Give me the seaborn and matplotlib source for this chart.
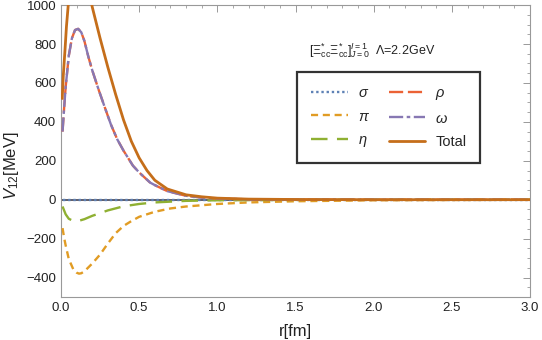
import matplotlib
matplotlib.use("Agg")
import matplotlib.pyplot as plt
import seaborn as sns
from matplotlib.ticker import MultipleLocator, FormatStrFormatter

# values (r in fm, V in MeV)
r_sigma = [0.01, 0.5, 1.0, 1.5, 2.0, 2.5, 3.0]
v_sigma = [0.0, 0.0, 0.0, 0.0, 0.0, 0.0, 0.0]

r_pi = [0.01, 0.02, 0.03, 0.05, 0.08, 0.1, 0.115, 0.13, 0.15, 0.2, 0.25, 0.3, 0.35, 0.4,
        0.45, 0.5, 0.6, 0.7, 0.8, 1.0, 1.2, 1.5, 2.0, 2.5, 3.0]
v_pi = [-146, -195, -235, -305, -360, -375, -380, -378, -368, -328, -282, -225, -172, -135,
        -110, -88, -62, -45, -35, -22, -14, -8, -3, -1.5, -0.5]

r_eta = [0.01, 0.03, 0.05, 0.08, 0.1, 0.15, 0.2, 0.3, 0.4, 0.5, 0.6, 0.8, 1.0, 1.5, 2.0, 3.0]
v_eta = [-35, -75, -98, -110, -112, -100, -83, -55, -34, -22, -14, -6, -3, -1, 0, 0]

r_rho = [0.01, 0.02, 0.03, 0.05, 0.07, 0.09, 0.11, 0.13, 0.15, 0.175, 0.2, 0.24, 0.28, 0.32,
         0.36, 0.4, 0.46, 0.5, 0.57, 0.6, 0.68, 0.8, 0.9, 1.0, 1.2, 1.5, 2.0, 3.0]
v_rho = [350, 470, 580, 740, 830, 872, 878, 860, 815, 735, 665, 567, 475, 385,
         310, 252, 175, 140, 88, 75, 44, 20, 11, 6, 2, 0.5, 0, 0]
r_omega = r_rho
v_omega = v_rho

r_total = [0.008, 0.015, 0.026, 0.035, 0.047, 0.06, 0.08, 0.1, 0.12, 0.15, 0.18, 0.2,
           0.25, 0.3, 0.35, 0.4, 0.45, 0.5, 0.55, 0.6, 0.68, 0.8, 0.9, 1.0, 1.2,
           1.5, 2.0, 3.0]
v_total = [520, 640, 773, 890, 1005, 1130, 1220, 1260, 1250, 1180, 1070, 990,
           830, 680, 540, 410, 300, 215, 150, 100, 55, 25, 15, 8, 3,
           1, 0, 0]

sns.set_style("white")
plt.rcParams['font.family'] = ['Liberation Sans', 'DejaVu Sans']
plt.rcParams['mathtext.fontset'] = 'custom'
plt.rcParams['mathtext.it'] = 'Liberation Sans:italic'
plt.rcParams['mathtext.rm'] = 'Liberation Sans'

fig = plt.figure(figsize=(5.42, 3.4), dpi=100)
ax = fig.add_axes([0.1125, 0.1265, 0.8655, 0.8585])

# zero axis line, as drawn under the curves
ax.axhline(0, color="#333344", lw=1.1, zorder=1)

sns.lineplot(x=r_sigma, y=v_sigma, ax=ax, color="#5E81B5", lw=1.7,
             linestyle=(0, (1, 1.2)), label=r"$\sigma$", zorder=3)
sns.lineplot(x=r_pi, y=v_pi, ax=ax, color="#E19C24", lw=1.7,
             linestyle=(0, (3, 2)), label=r"$\pi$", zorder=3)
sns.lineplot(x=r_eta, y=v_eta, ax=ax, color="#8FB032", lw=1.7,
             linestyle=(0, (7, 4)), label=r"$\eta$", zorder=3)
sns.lineplot(x=r_rho, y=v_rho, ax=ax, color="#EB6235", lw=1.7,
             linestyle=(0, (6, 2)), label=r"$\rho$", zorder=3)
sns.lineplot(x=r_omega, y=v_omega, ax=ax, color="#8778B3", lw=1.7,
             linestyle=(0, (6, 1.5, 1.5, 1.5)), label=r"$\omega$", zorder=4)
sns.lineplot(x=r_total, y=v_total, ax=ax, color="#C56E1A", lw=2.0,
             linestyle="-", label="Total", zorder=5)

ax.set_xlim(0, 3.0)
ax.set_ylim(-500, 1000)

ax.xaxis.set_major_locator(MultipleLocator(0.5))
ax.xaxis.set_minor_locator(MultipleLocator(0.1))
ax.yaxis.set_major_locator(MultipleLocator(200))
ax.yaxis.set_minor_locator(MultipleLocator(50))
ax.xaxis.set_major_formatter(FormatStrFormatter("%.1f"))
ax.tick_params(which="both", direction="in", top=True, right=True,
               color="#999999", labelsize=9.5, labelcolor="#222222")
ax.tick_params(which="major", length=5, width=0.7)
ax.tick_params(which="minor", length=2.5, width=0.6)
for s in ax.spines.values():
    s.set_color("#999999")
    s.set_linewidth(0.8)

ax.set_xlabel("r[fm]", fontsize=12, color="#222222", labelpad=7)
ax.set_ylabel(r"$V_{\rm 12}$[MeV]", fontsize=12, color="#222222")
ax.yaxis.set_label_coords(-0.086, 0.45)

ax.text(0.528, 0.845, r"$[\Xi^{*}_{\rm cc}\Xi^{*}_{\rm cc}]^{I=1}_{J=0}$  $\Lambda$=2.2GeV",
        transform=ax.transAxes, fontsize=9, color="#222222", va="center")

handles, labels = ax.get_legend_handles_labels()
leg = ax.legend(handles, labels, ncol=2, loc="upper left", bbox_to_anchor=(0.488, 0.795),
                frameon=True, fancybox=False, edgecolor="black", fontsize=10.5,
                handlelength=2.5, handletextpad=0.7, columnspacing=1.3,
                borderpad=0.95, labelspacing=0.65)
leg.get_frame().set_linewidth(1.6)

fig.savefig("out.png", dpi=100)
